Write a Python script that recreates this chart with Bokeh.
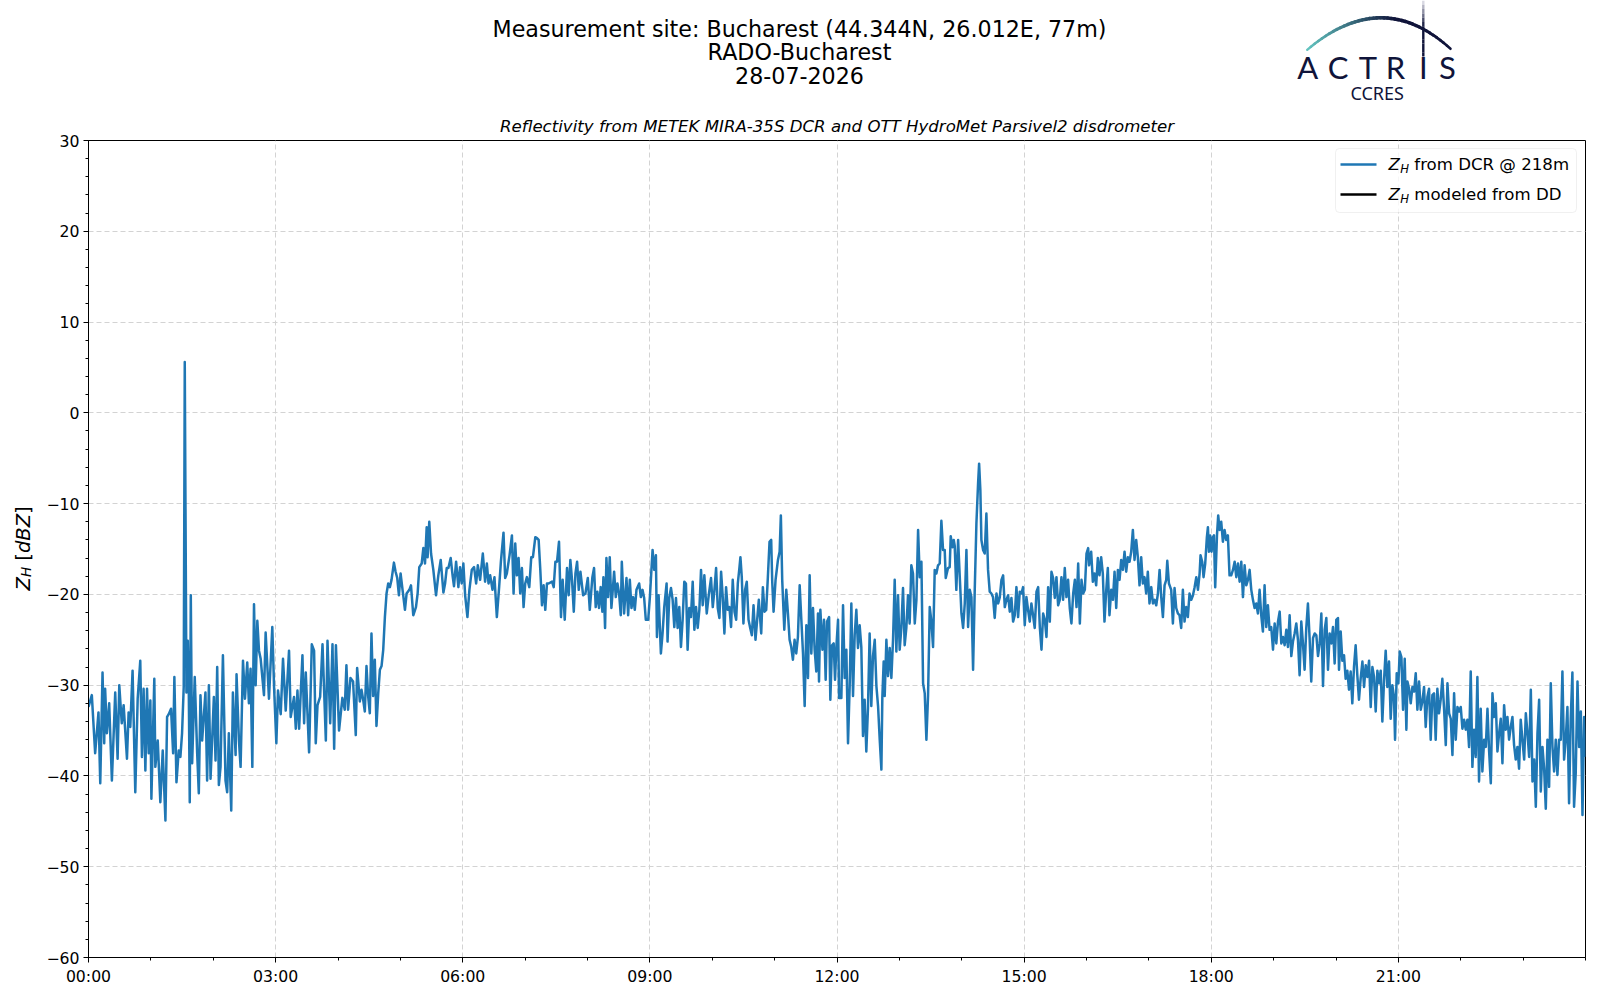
import numpy as np
from bokeh.plotting import figure
from bokeh.models import Range1d, FixedTicker, Label, BoxAnnotation, Arrow
from bokeh.layouts import column, row
from bokeh.embed import file_html
from bokeh.resources import INLINE
from bokeh.core.properties import value

# ---------------- data (minutes after 00:00, reflectivity in dBZ) ----------------
t_a = [0, 3.2, 6.4, 9.6, 11.3, 13.5, 15.1, 16, 17.7, 19.9, 22.5, 25.7, 28, 29.6, 32, 33.8, 37, 38.6, 40.2, 42.4,
       45, 47.3, 49.8, 51.4, 53, 54.7, 56.3, 57.9, 59.5, 60.5, 63.3, 64.3, 66.6, 69.1, 71.4, 74, 75.6, 77.2, 79.4, 81.4,
       82.6, 84.6, 86.8, 88.4, 90, 91.6, 92.6, 94.2, 95.5, 96.5, 97.4, 98.4, 99.7, 102.2, 104.5, 106.1, 107.7, 109.3, 112.5, 114.1,
       115.8, 117.4, 120.6, 122.2, 123.8, 125.4, 127, 129.3, 131.8, 133.4, 135, 137.3, 138.9, 141.5, 142.4, 144.7, 146.3, 148.6, 150.5, 152.7,
       154.3, 155.9, 157.6, 159.2, 160.8, 162.4, 164, 165.6, 168.8, 170.4, 173.6, 176.8, 178.5, 180.7, 182.3, 184.9, 187.1, 189.7, 192.9, 194.5,
       197.7, 199.4, 201, 202.6, 205.8, 207.4, 209, 212.2, 214.8, 217, 218.6, 220.3, 222.8, 225.1, 228.3, 229.9, 232.5, 234.7, 236.3, 238, 241]
z_a = [-32.4, -31.1, -37.5, -33, -40.8, -28.6, -36.4, -30.4, -35.3, -32, -40.5, -30.8, -38.1, -30, -34.2, -32.2, -38.1, -33, -34.6, -28.4,
       -41.8, -31.5, -27.3, -37.9, -30.4, -39.4, -30.4, -37.5, -31.7, -42.5, -29.3, -39, -36.1, -42.9, -37.2, -44.9, -33.5, -33.2, -32.6, -37.5,
       -29.1, -40.7, -37.2, -37.9, -35.3, -30.2, 5.6, -30.8, -25.1, -31, -42.9, -20.1, -38.6, -29.1, -37.4, -41.9, -31.1, -36.1, -30.8, -40.5,
       -30, -40.3, -31.3, -38.3, -28, -41, -39, -26.7, -40.5, -41.8, -35.3, -43.8, -30.8, -37.7, -28.8, -36.1, -39, -27.3, -31.5, -27.5,
       -32, -28.2, -39, -21.1, -30, -22.9, -26.2, -27.1, -31.1, -24.2, -31.5, -23.6, -30.2, -36.4, -30.6, -33.2, -27.1, -32.8, -26.2, -33.5,
       -31.3, -34.8, -30.6, -34.8, -26.7, -34.2, -28.6, -37.4, -25.5, -26.2, -36.4, -32.2, -31.3, -25.5, -36.1, -25.1, -34.2, -25.5, -37, -25.6, -35]

t_b = [244.2, 246.5, 248.1, 249.7, 252, 254.5, 257.1, 258.4, 261, 262.6, 264.2, 265.8, 267.4, 269, 270.6, 272.2, 273.8, 275.4, 277, 278.7,
       280.3, 281.9, 283.5, 285.1, 286.7, 288.3, 289.9, 291.5, 293.8, 295.4, 297, 298.6, 300.2, 302.1, 304.4, 306, 308.6, 310.2, 312.4, 315,
       316.6, 318.2, 320.5, 322.1, 323.7, 325.3, 326.2, 327.8, 329.5, 331.7, 334.3, 336.5, 338.8, 341.4, 343, 344.6, 346.2, 348.4, 350.4, 351.6,
       353.6, 355.8, 357.4, 359, 360.6, 362.3, 364.5, 366.4, 368.7, 370.9, 372.9, 374.5, 376.7, 379.3, 381.5, 383.2, 384.8, 386.4, 388.6, 390.5,
       392.8, 395, 396.7, 399.2, 400.8, 402.4, 405, 407.3, 408.9, 410.5, 412.1, 413.7, 415.3, 416.9, 418.5, 420.1, 421.7, 424, 425.9, 427.5,
       429.8, 431.4, 433, 434.6, 436.2, 437.8, 439.4, 441, 442.6, 445.9, 447.5, 449.1, 450.7, 452.6, 454.5, 456.1, 458.1, 460.3, 461.9, 463.5,
       465.1, 466.8, 468.4, 470, 471.6, 473.2, 475.8, 478, 480.3, 482.2]
z_b = [-31.4, -32.7, -27.8, -32.7, -29.2, -29.6, -35.5, -28.1, -31.8, -30.5, -31.6, -32.9, -27.9, -31.2, -33.1, -24.3, -31.2, -27.2, -34.5, -30.9,
       -28.3, -27.9, -26.1, -22.5, -19.9, -18.8, -19.2, -18.4, -16.5, -17.5, -18.2, -20.1, -17.7, -19.5, -21.7, -19.9, -19.5, -19, -22.3, -21.4,
       -19.9, -17, -16.6, -14.9, -16.6, -12.6, -15.9, -12, -15.5, -17.3, -20.1, -17.9, -16.2, -19.8, -18.8, -17.1, -17.1, -16, -18.1, -19.1,
       -16.4, -19.2, -17, -18.8, -16.6, -20.1, -22.5, -19.5, -17.3, -17, -18.8, -16.8, -18.4, -15.5, -18.6, -16.6, -18.8, -17.9, -19.5, -18.1,
       -22.5, -19.2, -16.4, -13.2, -18.2, -17.7, -15.7, -13.5, -19.9, -14.4, -17.9, -16, -19.9, -17.1, -21.4, -18.8, -18.1, -19.2, -15.9, -15.9,
       -13.7, -13.8, -14, -17.3, -21.2, -19, -21.7, -18.8, -18.8, -18.6, -19.2, -16.4, -16.4, -14.2, -22.5, -18.4, -22.8, -17.1, -20.1, -16.2,
       -18.4, -21.9, -17.7, -16.4, -19.5, -17.5, -20.1, -19.9, -18.2, -21.7]

t_c = [484.7, 486.3, 487.9, 489.5, 491.1, 492.7, 494.3, 495.3, 496.9, 498.2, 499.8, 501.4, 503, 505.6, 507.2, 508.8, 510.4, 512, 513, 515.2,
       517.5, 519.1, 520.7, 522.3, 523.9, 525.5, 527.1, 529.7, 531.3, 532.9, 534.5, 536.1, 538.4, 540, 542.6, 544.2, 545.8, 546.8, 548.4, 550.6,
       552.2, 553.8, 556.1, 557, 558.6, 560.3, 561.9, 563.5, 565.1, 566.7, 568.3, 569.9, 571.5, 573.1, 574.7, 576.3, 577.9, 579.5, 581.2, 582.8,
       584.4, 586, 587.6, 589.2, 590.8, 592.4, 594.7, 596.6, 598.8, 600.5, 602.1, 603.7, 605.3, 606.9, 608.5, 610.1, 611.7, 613.3, 614.9, 616.5,
       618.1, 619.7, 621.4, 623, 624.6, 626.2, 627.1, 628.4, 630, 631.6, 633.2, 634.9, 636.5, 638.1, 639.7, 641.6, 643.2, 644.8, 647.1, 648.7,
       650.3, 651.9, 653.5, 655.1, 656.7, 657.7, 659, 660.9, 663.2, 664.8, 666, 667.3, 669.3, 671.2, 672.8, 674.4, 676, 677.6, 679.2, 680.8,
       682.4, 684.1, 685.7, 687.3, 688.9, 690.5, 692.1, 693.7, 695.3, 696.9, 698.5, 700.1, 701.7, 702.7, 704, 706, 707.5, 709.1, 710.4, 712.4,
       713.6, 715.2, 716.8, 718.1, 719.4, 721, 722]
z_c = [-18.1, -17.1, -21.4, -19.7, -21.5, -19.2, -21.9, -18.1, -23.7, -16, -20.3, -15.9, -21.5, -17.5, -20.3, -18.8, -19.9, -22.3, -16.4, -22.1,
       -18.2, -22.3, -18.4, -21.5, -20.3, -21.7, -19.5, -18.8, -20.3, -19.5, -20.4, -22.8, -22.8, -20.3, -15.1, -17.3, -15.7, -24.7, -20.1, -26.5,
       -24.3, -21.4, -18.8, -25.2, -20.4, -19.3, -20.6, -23.6, -20.4, -23.7, -21.4, -25.8, -22.8, -18.6, -18.8, -26.1, -21.5, -22.5, -18.6, -23.9,
       -21.4, -23.7, -21.7, -17.3, -21.2, -17.9, -22.1, -20.1, -18.2, -21.4, -19.5, -17.1, -21.5, -22.6, -17.5, -20.3, -24.3, -19.2, -21.7, -21.4,
       -23.6, -18.4, -21.9, -22.8, -18.8, -17, -15.9, -18.1, -23.2, -19.5, -18.6, -22.8, -23.7, -24.5, -21.2, -25, -22.8, -20.6, -24.3, -19.2,
       -21.9, -21.7, -18.1, -14.2, -14, -18.6, -21.9, -18.4, -16.2, -15.3, -11.3, -18.4, -23.9, -19.5, -22.1, -25, -25.8, -27.2, -25, -26.5,
       -24.7, -19, -22.8, -26.5, -32.3, -23.4, -29.2, -17.9, -26.5, -21.5, -26.1, -28.5, -22.1, -29.6, -21.7, -26.1, -22.8, -29.4, -23, -22.5,
       -31.6, -25.6, -25.4, -29.4, -25.8, -22.8, -31.4]

t_d = [724.2, 725.8, 727.4, 729, 730.6, 732.2, 733.8, 735.4, 737, 738.6, 740.2, 741.8, 743.4, 745, 746.6, 748.2, 749.8, 751.4, 753, 754.6,
       756.3, 757.9, 759.5, 761.1, 762.7, 763.6, 764.9, 765.9, 767.5, 769.1, 770.7, 772.3, 773.9, 775.5, 777.1, 778.7, 780.3, 781.9, 783.5, 785.1,
       786.7, 788.3, 789.9, 791.5, 793.1, 794.8, 796.4, 798, 799.6, 801.2, 802.8, 804.4, 806, 807.6, 809.2, 810.8, 812.4, 814, 815.6, 817.2,
       818.8, 820.4, 822, 823.6, 824.6, 826.8, 828.4, 829.4, 831, 832.3, 833.2, 834.8, 836.5, 838.1, 839.7, 841.3, 842.9, 844.5, 846.1, 847.7,
       849.3, 850.9, 852.5, 854.1, 855.7, 856.7, 857.9, 858.9, 860.5, 862.1, 863.7, 865.3, 866.9, 868.5, 870.1, 871.7, 873.4, 875, 876.6, 878.2,
       879.8, 881.4, 883, 884.6, 886.2, 887.8, 889.4, 891, 892.6, 894.2, 895.8, 897.4, 899, 900.6, 902.2, 903.8, 905.4, 907, 908.6, 910.2,
       911.9, 913.5, 915.1, 916.7, 918.3, 919.9, 921.5, 923.1, 924.7, 926.3, 927.9, 929.5, 931.1, 932.7, 934.3, 935.9, 937.5, 939.1, 940.7, 942.3,
       943.9, 945.5, 947.2, 948.8, 950.4, 952, 953.6, 955.2, 956.8, 958.4, 960, 961.6, 962.5]
z_d = [-31.4, -21.2, -29.2, -26.1, -36.4, -30.1, -21, -31.2, -24.5, -21.7, -25.9, -23.4, -25.8, -35.6, -31.6, -37.3, -32.5, -24.3, -32.3, -26.8,
       -25, -30.1, -32.3, -36, -39.3, -31.4, -27.4, -31.2, -25, -29, -25.9, -29.2, -25, -18.4, -26.3, -20.1, -26.1, -23.7, -19.3, -25.6,
       -23.7, -20.1, -23.2, -16.8, -17.7, -23.2, -20.6, -12.9, -18.1, -16.4, -29.8, -30.9, -36, -31.1, -21.4, -23, -25.8, -17.3, -17.7, -16.8,
       -16.6, -11.9, -15.1, -15.1, -18.2, -17.1, -17, -13.6, -14.8, -14, -14.6, -19.5, -14, -18.1, -22.1, -23.7, -21, -15.1, -23.6, -19.5,
       -20.3, -28.3, -19.5, -12.2, -7.8, -5.6, -8.5, -14, -15.1, -15.5, -11.1, -17.3, -19.7, -19.9, -20.3, -22.6, -19.9, -21, -20.3, -18.4,
       -17.9, -21.4, -20.6, -20.1, -21.9, -20.4, -23, -22.3, -19.2, -22.5, -19.7, -19.9, -19.2, -23.4, -20.3, -21.7, -23, -21, -22.3, -23.7,
       -19.7, -19.2, -23.6, -26.1, -22.1, -22.8, -24.7, -19.2, -23, -17.5, -18.2, -20.4, -18.1, -21.2, -20.6, -18.1, -20.6, -17.1, -20.3, -18.4,
       -21.5, -23.2, -19.9, -18.4, -21.4, -16.6, -23.2, -18.4, -19.9, -19.5, -15.5, -14.9, -16.8]

t_e = [964.5, 966.1, 967.7, 969.3, 970.9, 972.5, 974.1, 975.7, 977.3, 978.9, 980.5, 982.1, 983.8, 985.4, 987, 988.6, 990.2, 991.8, 993.4, 995,
       996.6, 998.2, 999.8, 1001.4, 1003, 1004.6, 1006.2, 1007.8, 1009.4, 1011, 1012.6, 1014.2, 1015.8, 1017.4, 1019, 1020.6, 1022.3, 1023.9, 1025.5, 1027.1,
       1028.7, 1030.3, 1031.9, 1033.5, 1035.1, 1036.7, 1037.7, 1039.3, 1041.5, 1043.1, 1044.7, 1046.3, 1047.9, 1049.5, 1051.1, 1052.7, 1054.3, 1055.9, 1057.5, 1059.1,
       1060.8, 1062.4, 1064, 1065.6, 1067.2, 1068.8, 1069.7, 1071.3, 1072.6, 1074.2, 1075.8, 1076.8, 1077.8, 1079, 1080.3, 1081.6, 1082.6, 1083.8, 1085.5, 1086.7,
       1088, 1089.6, 1091.2, 1092.8, 1094.4, 1096, 1097.6, 1099.2, 1100.9, 1102.5, 1104.1, 1105.7, 1107.3, 1108.9, 1110.5, 1112.1, 1113.7, 1115.3, 1116.9, 1118.5,
       1120.1, 1121.7, 1123.3, 1124.9, 1126.5, 1128.1, 1129.7, 1131.3, 1132.9, 1134.5, 1136.1, 1137.7, 1139.4, 1141, 1142.6, 1144.2, 1145.8, 1147.4, 1149, 1150.6,
       1152.2, 1153.8, 1155.4, 1157, 1158.6, 1160.2, 1161.8, 1163.4, 1165, 1166.6, 1168.2, 1169.8, 1171.4, 1173, 1174.6, 1176.2, 1177.9, 1179.5, 1181.1, 1182.7,
       1184.3, 1185.9, 1187.5, 1189.1, 1190.7, 1192.3, 1193.9, 1195.5, 1197.1, 1198.7, 1200.3, 1201.9, 1202.9]
z_e = [-15.3, -18.6, -17.7, -19, -16, -17.9, -15.9, -17.7, -23, -19.7, -17.1, -22.3, -19.5, -20.6, -17.5, -21.5, -17.3, -18.4, -16.2, -17.3,
       -15.3, -17.5, -15.9, -16.4, -15.3, -12.9, -16.2, -14, -15.9, -19, -15.9, -18.8, -18.1, -19.9, -17.5, -21, -19.2, -21, -20.6, -21.2,
       -19.9, -17.3, -20.3, -22.5, -19, -18.4, -16.3, -18.8, -19.5, -23.2, -19.3, -21.5, -22.1, -22.3, -23.7, -19.5, -23, -21.4, -22.5, -19.9,
       -20.6, -20.1, -19.2, -18.1, -19.5, -17.7, -15.7, -16.4, -18.1, -16.6, -13.7, -12.6, -15.3, -13.5, -15.3, -13.7, -13.5, -19.2, -13.5, -11.3,
       -12.9, -12, -14.2, -12.9, -14, -13.5, -17.9, -17.9, -17.3, -16.4, -18.1, -16.6, -18.6, -16.4, -20.3, -16.8, -19, -18.4, -17.3, -19.5,
       -20.6, -21.5, -21, -22.1, -19.5, -22.3, -24.1, -19, -23.6, -21.2, -23.9, -23.6, -26.1, -23.2, -25.4, -23, -21.9, -25.4, -24.7, -25.6,
       -23.9, -25.8, -22.3, -26.8, -25.2, -24.3, -23.2, -25, -28.9, -23, -25.4, -28.3, -23.7, -21, -24.8, -29.6, -24.8, -24.3, -24.5, -26.8,
       -25.4, -22.1, -30.1, -23.9, -22.6, -28.3, -24.3, -25.4, -23.6, -27.6, -22.8, -22.6, -28.3]

t_f = [1204.5, 1206.1, 1207.7, 1209.3, 1210.9, 1212.5, 1214.1, 1215.7, 1217.3, 1218.9, 1220.5, 1222.1, 1223.7, 1225.4, 1227, 1228.6, 1230.2, 1231.8, 1233.4, 1235,
       1236.6, 1238.2, 1239.8, 1241.4, 1243, 1244.6, 1246.2, 1247.8, 1249.4, 1251, 1252.6, 1254.2, 1255.8, 1256.8, 1258.4, 1260, 1261.3, 1262.9, 1264.5, 1266.1,
       1267.7, 1268.7, 1270.3, 1271.9, 1273.5, 1275.1, 1276.7, 1278.3, 1279.9, 1281.5, 1283.1, 1284.7, 1286.3, 1287.9, 1289.5, 1291.1, 1292.7, 1294.3, 1295.9, 1297.5,
       1299.1, 1300.7, 1302.3, 1304, 1305.6, 1307.2, 1308.8, 1310.4, 1312, 1313.6, 1315.2, 1316.8, 1318.4, 1320, 1321.6, 1323.2, 1324.8, 1326.4, 1328, 1329.6,
       1331.2, 1332.8, 1334.4, 1336, 1337.6, 1339.2, 1340.8, 1342.5, 1344.1, 1345.7, 1347.3, 1348.9, 1350.5, 1352.1, 1353.7, 1355.3, 1356.9, 1358.5, 1360.1, 1361.7,
       1363.3, 1364.9, 1366.5, 1368.1, 1369.7, 1371.3, 1372.9, 1374.5, 1376.1, 1377.7, 1379.3, 1381, 1382.6, 1384.2, 1385.8, 1387.4, 1389, 1390.6, 1392.2, 1393.8,
       1395.4, 1397, 1398.6, 1400.2, 1401.8, 1403.4, 1405, 1406.6, 1408.2, 1409.8, 1411.4, 1413]
z_f = [-24.1, -27.3, -26.7, -29.3, -28.4, -30.5, -28.5, -32, -28, -25.6, -28.9, -31.6, -29.3, -27.4, -30.2, -27.8, -29.1, -27.3, -32.4, -28,
       -29.1, -32.9, -28.4, -29.8, -28.4, -34, -29.5, -26.2, -30.2, -27.4, -33.7, -30, -31.3, -36, -28.7, -29.8, -26.3, -26.9, -32.7, -27.1,
       -34.9, -29.6, -30.4, -32, -30.2, -30.7, -28.7, -32.7, -29.6, -32.7, -31.8, -30.2, -34.6, -31.3, -30.4, -36, -31.1, -30.9, -36, -30.4,
       -33.1, -31.6, -29.3, -32.7, -36.6, -29.8, -33.1, -33.7, -37.7, -30.9, -36, -32.4, -32.9, -32.4, -34.8, -33.8, -34.9, -33.8, -36.8, -28.5,
       -39, -34.9, -37.9, -29.1, -40.6, -32.6, -39.5, -36, -36.8, -32.6, -37.3, -40.8, -30.9, -33.5, -32, -37.3, -35.3, -33.7, -38.6, -32.2,
       -34.9, -33.5, -36, -34.6, -33.5, -36.6, -38.2, -36.8, -39.2, -33.8, -36, -38.2, -33.1, -35.3, -37.9, -30.5, -40.6, -38.2, -43.4, -35.3,
       -31.6, -41.7, -36.8, -39.2, -43.6, -36, -41.2, -29.8, -36.8, -39.5, -36, -39.9]

t_g = [1414.6, 1416.2, 1417.8, 1419.4, 1421, 1422.6, 1424.2, 1425.8, 1427.4, 1429, 1430.6, 1432.3, 1433.9, 1435.5, 1437.1, 1438.7, 1440]
z_g = [-36, -36, -28.5, -38.2, -36, -32.4, -43, -33.7, -28.6, -43.4, -39.7, -29.6, -36.8, -32.9, -44.3, -33.5, -37.9]

x_ticks = [0, 180, 360, 540, 720, 900, 1080, 1260]
x_tick_labels = ["00:00", "03:00", "06:00", "09:00", "12:00", "15:00", "18:00", "21:00"]
y_ticks = [-60, -50, -40, -30, -20, -10, 0, 10, 20, 30]

title_lines = ["Measurement site: Bucharest (44.344N, 26.012E, 77m)", "RADO-Bucharest", "28-07-2026"]
subtitle = "Reflectivity from METEK MIRA-35S DCR and OTT HydroMet Parsivel2 disdrometer"
legend_texts = ["from DCR @ 218m", "modeled from DD"]

# ---------------- assemble series ----------------
ts, zs = [], []
for tt_, zz_ in [(t_a, z_a), (t_b, z_b), (t_c, z_c), (t_d, z_d), (t_e, z_e), (t_f, z_f), (t_g, z_g)]:
    n = min(len(tt_), len(zz_))
    ts.extend(tt_[:n]); zs.extend(zz_[:n])
t = np.array(ts, dtype=float)
z = np.array(zs, dtype=float)
order = np.argsort(t, kind="stable")
t, z = t[order], z[order]

FONT = "DejaVu Sans"
BLUE = "#1f77b4"
NAVY = "#10143a"

W = 1598          # total page width used
HEAD_H = 108      # header strip (titles + logo)
MAIN_H = 890      # main plot strip
YW = 42           # strip holding the rotated y label
PW = W - YW
# frame box in page pixels
FL, FR, FT, FB = 88, 1585, 140, 957
X0, X1, Y0, Y1 = 0, 1440, -60, 30


def dx(px):
    return X0 + (px - FL) * (X1 - X0) / (FR - FL)


def dy(py):
    return Y1 - (py - FT) * (Y1 - Y0) / (FB - FT)


def no_align(fig):
    if "frame_align" in fig.properties():
        fig.frame_align = False


# ---------------- header (titles + logo) ----------------
head = figure(width=W, height=HEAD_H, x_range=Range1d(0, W), y_range=Range1d(HEAD_H, 0),
              output_backend="svg", toolbar_location=None, x_axis_location=None, y_axis_location=None,
              min_border=0, min_border_left=0, min_border_right=0, min_border_top=0, min_border_bottom=0)
no_align(head)
head.outline_line_color = None
head.xgrid.visible = False
head.ygrid.visible = False

head.text(x=[799.0, 799.0, 799.0], y=[28.6, 51.2, 74.5], text=title_lines,
          text_font=value(FONT), text_font_size="22.2px", text_align="center",
          text_baseline="middle", text_color="black")

# logo arc (gradient teal -> navy)
tt = np.linspace(0, 1, 41)
P0, P1, P2 = (1306.7, 49.3), (1381.6, -14.2), (1450.0, 48.3)
bx = (1 - tt) ** 2 * P0[0] + 2 * (1 - tt) * tt * P1[0] + tt ** 2 * P2[0]
by = (1 - tt) ** 2 * P0[1] + 2 * (1 - tt) * tt * P1[1] + tt ** 2 * P2[1]
c0 = np.array([0x62, 0xc3, 0xbf]); c1 = np.array([0x10, 0x14, 0x3a])
segx, segy, segc, segw = [], [], [], []
for i in range(len(tt) - 1):
    f = min(1.0, tt[i] / 0.6)
    c = (c0 * (1 - f) + c1 * f).astype(int)
    segx.append([bx[i], bx[i + 1]]); segy.append([by[i], by[i + 1]])
    segc.append("#%02x%02x%02x" % tuple(c))
    segw.append(1.4 + 2.2 * np.sin(np.pi * (0.15 + 0.7 * tt[i])))
head.multi_line(segx, segy, line_color=segc, line_width=segw, line_cap="round")

# logo mast
my = np.linspace(0, 56, 14)
mx, myy, mc = [], [], []
for i in range(len(my) - 1):
    f = min(1.0, my[i] / 24.0)
    c = (np.array([0xd8, 0xd8, 0xe2]) * (1 - f) + c1 * f).astype(int)
    mx.append([1422.8, 1422.8]); myy.append([my[i], my[i + 1]]); mc.append("#%02x%02x%02x" % tuple(c))
head.multi_line(mx, myy, line_color=mc, line_width=2.4)

head.text(x=[1307.3, 1337.7, 1367.5, 1395.0, 1422.8, 1447.0], y=[66.8] * 6, text=list("ACTRIS"),
          text_font=value("Lato"), text_font_size="31px", text_align="center", text_baseline="middle",
          text_color=NAVY)
head.text(x=[1376.7], y=[92.0], text=["CCRES"], text_font=value("Noto Sans"), text_font_size="18px",
          text_align="center", text_baseline="middle", text_color=NAVY)

# ---------------- y label strip ----------------
yfig = figure(width=YW, height=MAIN_H, x_range=Range1d(0, YW),
              y_range=Range1d(-(HEAD_H + MAIN_H), -HEAD_H),
              output_backend="svg", toolbar_location=None, x_axis_location=None, y_axis_location=None,
              min_border=0, min_border_left=0, min_border_right=0, min_border_top=0, min_border_bottom=0)
no_align(yfig)
yfig.outline_line_color = None
yfig.xgrid.visible = False
yfig.ygrid.visible = False
ylab = [("Z", 22.5, 590.0, "italic", "19.5px"),
        ("H", 25.5, 576.5, "italic", "13.6px"),
        ("[", 22.5, 560.2, "normal", "19.5px"),
        ("dBZ", 22.5, 552.6, "italic", "19.5px"),
        ("]", 22.5, 513.5, "normal", "19.5px")]
for txt, bxp, byp, sty, fs in ylab:
    yfig.text(x=[bxp], y=[-byp], text=[txt], angle=np.pi / 2, text_font=value(FONT),
              text_font_style=sty, text_font_size=fs, text_align="left",
              text_baseline="alphabetic", text_color="black")

# ---------------- main plot ----------------
p = figure(width=PW, height=MAIN_H, x_range=Range1d(X0, X1), y_range=Range1d(Y0, Y1),
           output_backend="svg", toolbar_location=None,
           min_border_left=FL - YW, min_border_right=W - FR,
           min_border_top=FT - HEAD_H, min_border_bottom=HEAD_H + MAIN_H - FB)
no_align(p)
p.outline_line_color = "black"
p.outline_line_width = 1
p.outline_line_alpha = 1.0

p.title.text = subtitle
p.title.align = "center"
p.title.text_font = FONT
p.title.text_font_style = "italic"
p.title.text_font_size = "16.6px"
p.title.text_color = "black"

xt = FixedTicker(ticks=x_ticks, minor_ticks=list(range(0, 1441, 60)))
yt = FixedTicker(ticks=y_ticks, minor_ticks=list(range(-60, 31, 2)))
p.xaxis.ticker = xt
p.yaxis.ticker = yt
p.xgrid.ticker = xt
p.ygrid.ticker = yt
p.xaxis.major_label_overrides = {v: s for v, s in zip(x_ticks, x_tick_labels)}
p.yaxis.major_label_overrides = {v: (str(v).replace("-", "\u2212")) for v in y_ticks}

for ax in (p.xaxis[0], p.yaxis[0]):
    ax.axis_line_color = "black"
    ax.major_tick_line_color = "black"
    ax.minor_tick_line_color = "black"
    ax.major_tick_out = 5
    ax.major_tick_in = 0
    ax.minor_tick_out = 3
    ax.minor_tick_in = 0
    ax.major_label_text_font = FONT
    ax.major_label_text_font_size = "15.7px"
    ax.major_label_text_color = "black"
    ax.major_label_standoff = 4

for g in (p.xgrid[0], p.ygrid[0]):
    g.grid_line_color = "#d3d3d3"
    g.grid_line_dash = "5 3"
    g.grid_line_width = 1

p.line(t, z, line_color=BLUE, line_width=2.5, line_join="round")

# legend (manual so the subscript can be drawn)
p.add_layout(BoxAnnotation(left=dx(1335), right=dx(1576), top=dy(148), bottom=dy(212),
                           fill_color="white", fill_alpha=0.8, line_color="#cccccc",
                           line_width=1, border_radius=4, level="overlay"))
for row_y, col in [(164, BLUE), (194, "black")]:
    p.add_layout(Arrow(end=None, start=None, x_start=dx(1340), y_start=dy(row_y), x_end=dx(1376),
                       y_end=dy(row_y), line_color=col, line_width=2.5, level="overlay"))
for row_y, txt in zip([164, 194], legend_texts):
    p.add_layout(Label(x=dx(1388), y=dy(row_y), text="Z", text_font=FONT, text_font_style="italic",
                       text_font_size="16.6px", text_baseline="middle", text_align="left",
                       text_color="black", level="overlay"))
    p.add_layout(Label(x=dx(1399.7), y=dy(row_y + 4), text="H", text_font=FONT, text_font_style="italic",
                       text_font_size="11.7px", text_baseline="middle", text_align="left",
                       text_color="black", level="overlay"))
    p.add_layout(Label(x=dx(1413.8), y=dy(row_y), text=txt, text_font=FONT,
                       text_font_size="16.6px", text_baseline="middle", text_align="left",
                       text_color="black", level="overlay"))

layout = column(head, row(yfig, p, spacing=0), spacing=0)
open("out.html", "w").write(file_html(layout, INLINE))
